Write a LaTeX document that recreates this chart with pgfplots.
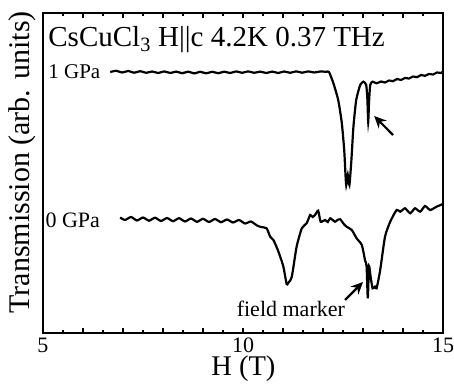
\documentclass[border=0pt]{standalone}
\usepackage{fontspec}
\setmainfont{Liberation Serif}
\usepackage{pgfplots}
\pgfplotsset{compat=1.18}
\usetikzlibrary{arrows.meta}
\begin{document}
\begin{tikzpicture}
\useasboundingbox (0,0) rectangle (454pt,383pt);
\begin{axis}[
  at={(43pt,50pt)}, anchor=south west,
  scale only axis, width=400pt, height=320pt,
  xmin=5, xmax=15, ymin=50, ymax=370,
  axis line style={line width=1.5pt},
  xtick={5,6,...,15},
  xticklabels={5,,,,,10,,,,,15},
  minor x tick num=1,
  ytick=\empty,
  tick align=inside,
  xtick pos=both,
  major tick length=5pt, minor tick length=3pt,
  tick style={line width=1.2pt, black},
  /pgf/number format/assume math mode=true,
  xticklabel style={font=\fontsize{22}{24}\selectfont, inner sep=0pt, yshift=-4.5pt},
  xlabel={H (T)},
  xlabel style={font=\fontsize{28.5}{30}\selectfont, inner sep=0pt, at={(axis description cs:0.501,-0.111)}, anchor=center},
  ylabel={Transmission (arb. units)},
  ylabel style={font=\fontsize{30}{32}\selectfont, at={(axis description cs:-0.0525,0.533)}, anchor=center, rotate=0},
  clip=false,
]
% 1 GPa
\addplot[black, line width=2.2pt, no marks, smooth, tension=0.35] coordinates {
(6.68,311) (6.83,312.2) (6.98,310.5) (7.13,312) (7.28,310.3) (7.43,311.8) (7.58,310.2) (7.73,311.5)
(7.88,310) (8.03,311.6) (8.18,310) (8.33,311.4) (8.48,309.8) (8.63,311.3) (8.78,309.6) (8.93,311.2)
(9.08,309.7) (9.23,311.2) (9.38,309.8) (9.53,311.3) (9.68,310) (9.83,311.6) (9.98,310.2) (10.13,311.6)
(10.28,310.2) (10.43,311.4) (10.58,310) (10.73,311.4) (10.88,310) (11.03,311.5) (11.18,310.2) (11.33,311.6)
(11.48,310.3) (11.63,311.6) (11.78,310.5) (11.93,311.5) (12.08,311.2) (12.15,311)
(12.26,299.7) (12.38,283) (12.47,260) (12.53,233) (12.56,210) (12.58,198) (12.62,208) (12.66,198)
(12.71,223) (12.76,256) (12.83,283) (12.93,298) (13.01,301.3) (13.08,298) (13.11,283) (13.13,261)
(13.15,280) (13.18,298) (13.24,301.3) (13.34,299.7)
(13.45,301.5) (13.55,300.5) (13.65,302.5) (13.75,301.8) (13.85,304) (13.95,303) (14.05,305) (14.15,304.5)
(14.25,306.5) (14.35,305.8) (14.45,308) (14.55,307.2) (14.65,309) (14.75,308.5) (14.85,310.5) (14.95,310) (15.0,311.5)
};
% 0 GPa
\addplot[black, line width=2.2pt, no marks, smooth, tension=0.35] coordinates {
(6.93,165.5) (7.05,163) (7.2,166) (7.35,162.5) (7.5,165.5) (7.65,162.3) (7.8,165.3) (7.95,162)
(8.1,165) (8.25,161.8) (8.4,164.8) (8.55,161.5) (8.7,164.5) (8.85,161.2) (9.0,164.2) (9.15,161)
(9.3,164) (9.45,160.8) (9.6,163.5) (9.75,160.5) (9.9,163) (10.05,159.5) (10.2,161.5) (10.35,157.5)
(10.45,156) (10.59,154.7) (10.68,146.3) (10.76,143) (10.85,135) (10.93,126.3) (11.01,116.3) (11.09,99)
(11.13,100) (11.22,106.3) (11.34,136.3) (11.47,154.7) (11.59,159.7) (11.68,168) (11.74,166) (11.8,168)
(11.88,172.3) (11.94,161.3) (12.05,163) (12.12,161) (12.18,164.7) (12.3,161.3) (12.36,163) (12.43,163.7)
(12.52,159) (12.59,156.3) (12.72,153) (12.84,144.7) (12.97,138) (13.05,123) (13.09,116.3) (13.12,84.7)
(13.15,117) (13.19,106.3) (13.24,94.7) (13.3,96.3) (13.34,94.7) (13.43,113) (13.55,146.3) (13.68,161.3)
(13.84,173) (13.93,171.3) (14.05,174.7) (14.18,169.7) (14.3,174.7) (14.43,171.3) (14.55,177) (14.68,173)
(14.84,176.3) (15.0,179)
};
\node[anchor=base west, inner sep=0pt, font=\fontsize{29}{31}\selectfont] at (axis cs:5.13,336) {CsCuCl\textsubscript{3} H||c 4.2K 0.37 THz};
\node[anchor=west, inner sep=0pt, font=\fontsize{21}{23}\selectfont] at (axis cs:5.13,311) {1 GPa};
\node[anchor=west, inner sep=0pt, font=\fontsize{22}{24}\selectfont] at (axis cs:5.06,163) {0 GPa};
\node[anchor=base west, inner sep=0pt, font=\fontsize{22}{24}\selectfont] at (axis cs:9.84,66.3) {field marker};
\draw[line width=2.2pt, -{Stealth[length=12pt,width=11pt]}] (axis cs:13.75,248) -- (axis cs:13.28,267);
\draw[line width=2.2pt, -{Stealth[length=12pt,width=11pt]}] (axis cs:12.55,83) -- (axis cs:13.0,101);
\end{axis}
\end{tikzpicture}
\end{document}
